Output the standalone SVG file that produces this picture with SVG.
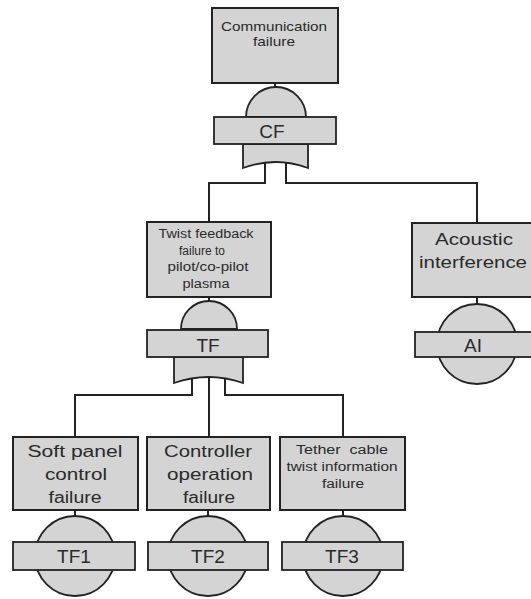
<svg xmlns="http://www.w3.org/2000/svg" width="531" height="599" viewBox="0 0 531 599">
<style>
.box{fill:#d4d4d4;stroke:#222;stroke-width:2}
.gate{fill:#d4d4d4;stroke:#222;stroke-width:1.8}
.wire{fill:none;stroke:#222;stroke-width:2}
text{font-family:"Liberation Sans",Arial,sans-serif;fill:#2a2a2a;text-anchor:middle}
.s{font-size:12px}
.m{font-size:13px}
.l{font-size:16px}
.g{font-size:19px}
.pre{white-space:pre}
</style>
<rect width="531" height="599" fill="#fff"/>
<g id="connectors">
<path class="wire" d="M275,83 V88"/>
<path class="wire" d="M265,163 V183 H209 V222"/>
<path class="wire" d="M286,163 V183 H477 V223"/>
<path class="wire" d="M209,297 V302"/>
<path class="wire" d="M192,378 V395 H75 V437"/>
<path class="wire" d="M209,377 V437"/>
<path class="wire" d="M225,378 V395 H343 V437"/>
<path class="wire" d="M477,297 V304"/>
<path class="wire" d="M75,510 V516"/>
<path class="wire" d="M208,510 V516"/>
<path class="wire" d="M343,510 V516"/>
</g>
<g id="CF-event">
<rect class="box" x="212" y="8" width="126" height="75"/>
<text class="m" x="274" y="31" textLength="106" lengthAdjust="spacingAndGlyphs">Communication</text>
<text class="m" x="274" y="46" textLength="42" lengthAdjust="spacingAndGlyphs">failure</text>
</g>
<g id="CF-gate">
<path class="gate" d="M246,117 A30,30 0 0 1 306,117 Z"/>
<path class="gate" d="M243,144 V168 Q275.5,156 308,168 V144 Z"/>
<rect class="gate" x="214" y="117" width="122" height="27"/>
<text class="g" x="272" y="138">CF</text>
</g>
<g id="TF-event">
<rect class="box" x="147" y="222" width="124" height="75"/>
<text class="s" x="206" y="238" textLength="95" lengthAdjust="spacingAndGlyphs">Twist feedback</text>
<text class="s" x="202" y="255" textLength="46" lengthAdjust="spacingAndGlyphs">failure to</text>
<text class="s" x="208" y="271" textLength="81" lengthAdjust="spacingAndGlyphs">pilot/co-pilot</text>
<text class="s" x="206" y="288" textLength="47" lengthAdjust="spacingAndGlyphs">plasma</text>
</g>
<g id="TF-gate">
<path class="gate" d="M181,329 A28,28 0 0 1 237,329 Z"/>
<path class="gate" d="M174,357 V383 Q208.5,371 243,383 V357 Z"/>
<rect class="gate" x="147" y="330" width="121" height="27"/>
<text class="g" x="208" y="352">TF</text>
</g>
<g id="AI">
<rect class="box" x="412" y="223" width="121" height="74"/>
<text class="l" x="474" y="245" textLength="78" lengthAdjust="spacingAndGlyphs">Acoustic</text>
<text class="l" x="473" y="268" textLength="108" lengthAdjust="spacingAndGlyphs">interference</text>
<circle class="gate" cx="477" cy="344" r="40"/>
<rect class="gate" x="415" y="332" width="118" height="25"/>
<text class="g" x="473" y="352">AI</text>
</g>
<g id="TF1">
<rect class="box" x="13" y="437" width="125" height="73"/>
<text class="l" x="75" y="457" textLength="95" lengthAdjust="spacingAndGlyphs">Soft panel</text>
<text class="l" x="76" y="480" textLength="62" lengthAdjust="spacingAndGlyphs">control</text>
<text class="l" x="75" y="503" textLength="53" lengthAdjust="spacingAndGlyphs">failure</text>
<circle class="gate" cx="75" cy="556" r="40"/>
<rect class="gate" x="13" y="542" width="122" height="28"/>
<text class="g" x="74" y="563">TF1</text>
</g>
<g id="TF2">
<rect class="box" x="147" y="437" width="123" height="73"/>
<text class="l" x="208" y="457" textLength="88" lengthAdjust="spacingAndGlyphs">Controller</text>
<text class="l" x="210" y="480" textLength="86" lengthAdjust="spacingAndGlyphs">operation</text>
<text class="l" x="209" y="503" textLength="52" lengthAdjust="spacingAndGlyphs">failure</text>
<circle class="gate" cx="208" cy="556" r="40"/>
<rect class="gate" x="148" y="542" width="120" height="28"/>
<text class="g" x="208" y="563">TF2</text>
</g>
<g id="TF3">
<rect class="box" x="280" y="437" width="125" height="73"/>
<text class="s pre" x="342" y="454" textLength="92" lengthAdjust="spacingAndGlyphs" xml:space="preserve">Tether  cable</text>
<text class="s" x="342" y="471" textLength="111" lengthAdjust="spacingAndGlyphs">twist information</text>
<text class="s" x="343" y="488" textLength="42" lengthAdjust="spacingAndGlyphs">failure</text>
<circle class="gate" cx="343" cy="556" r="40"/>
<rect class="gate" x="282" y="542" width="121" height="28"/>
<text class="g" x="342" y="563">TF3</text>
</g>
</svg>
